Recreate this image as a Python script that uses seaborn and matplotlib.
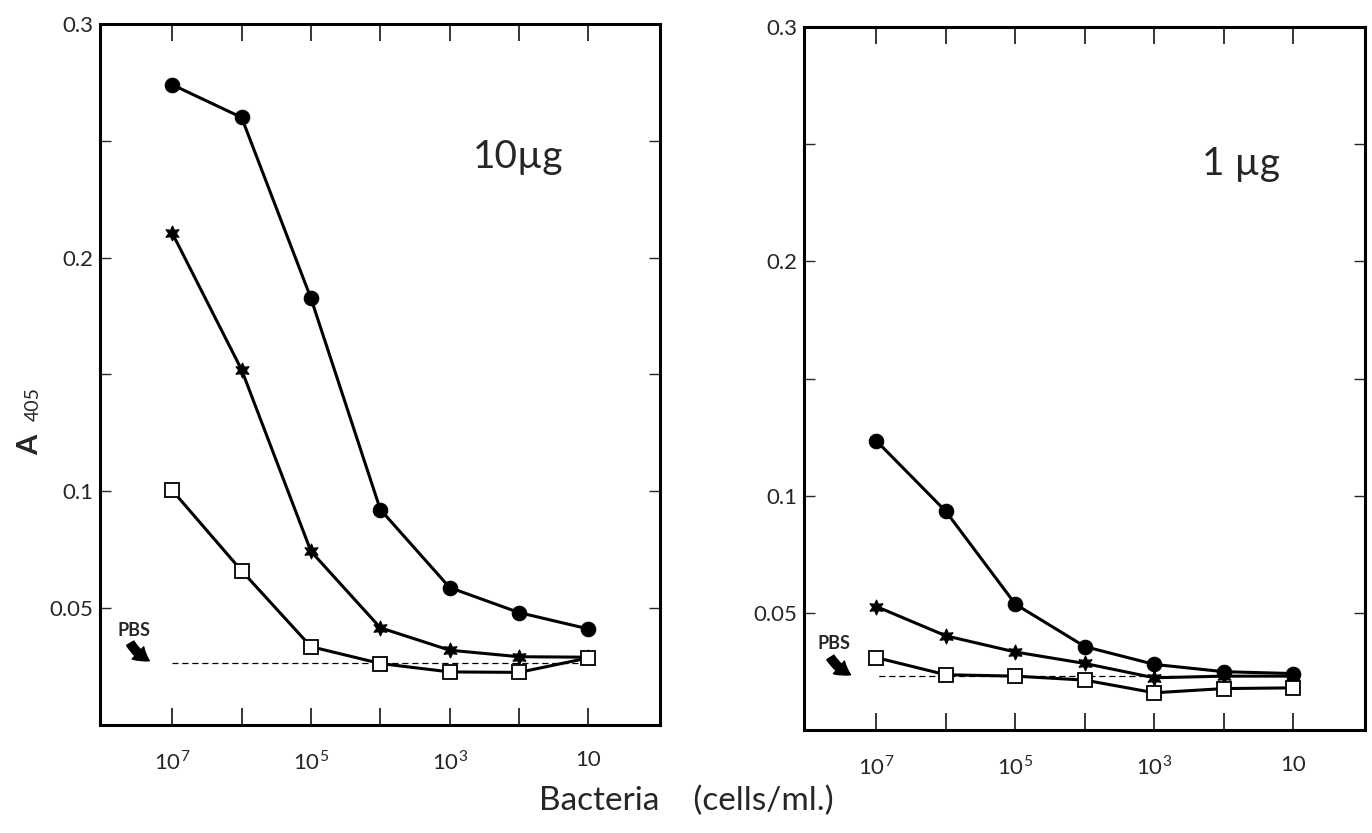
import numpy as np
import pandas as pd
import matplotlib
matplotlib.use("Agg")
import matplotlib.pyplot as plt
import seaborn as sns

# ---- data ----
bacteria = [1e7, 1e6, 1e5, 1e4, 1e3, 1e2, 1e1]

left_circle = [0.274, 0.260, 0.1826, 0.0922, 0.0588, 0.0481, 0.0411]
left_star = [0.2105, 0.152, 0.0743, 0.0416, 0.0320, 0.0292, 0.0290]
left_square = [0.1004, 0.066, 0.0335, 0.0263, 0.0227, 0.0225, 0.0287]
left_pbs = 0.0267

right_circle = [0.1234, 0.0933, 0.0537, 0.0356, 0.0280, 0.0249, 0.0241]
right_star = [0.0527, 0.0402, 0.0333, 0.0284, 0.0223, 0.0230, 0.0230]
right_square = [0.0309, 0.0236, 0.0230, 0.0213, 0.0159, 0.0177, 0.0180]
right_pbs = 0.0230

panel_labels = ["10\u00b5g", "1 \u00b5g"]
ytick_vals = [0.05, 0.1, 0.15, 0.2, 0.25, 0.3]
ytick_labels = ["0.05", "0.1", "", "0.2", "", "0.3"]
xtick_labels = ["$10^7$", "", "$10^5$", "", "$10^3$", "", "10"]

sns.set_style("white")
plt.rcParams["font.family"] = ["Lato", "DejaVu Sans"]
plt.rcParams["mathtext.fontset"] = "custom"
plt.rcParams["mathtext.rm"] = "Lato"

fig = plt.figure(figsize=(13.72, 8.33), dpi=100)
ax1 = fig.add_axes([0.0729, 0.1297, 0.4081, 0.8415])
ax2 = fig.add_axes([0.586, 0.1236, 0.409, 0.844])

star_marker = (6, 1, 0)

def draw(ax, circ, star, sq, pbs, pbs_end, label, label_xy,
         txt_xy, tail, tip):
    # PBS baseline
    sns.lineplot(x=[1e7, pbs_end], y=[pbs, pbs], ax=ax, color="black",
                 linewidth=0.9, linestyle=(0, (5, 3)), legend=False)
    sns.lineplot(x=bacteria, y=circ, ax=ax, color="black", linewidth=2.2,
                 marker="o", markersize=10.5, markerfacecolor="black",
                 markeredgecolor="black", legend=False)
    sns.lineplot(x=bacteria, y=star, ax=ax, color="black", linewidth=2.2,
                 marker=star_marker, markersize=11, markerfacecolor="black",
                 markeredgecolor="black", legend=False)
    sns.lineplot(x=bacteria, y=sq, ax=ax, color="black", linewidth=2.2,
                 marker="s", markersize=10.5, markerfacecolor="white",
                 markeredgecolor="black", markeredgewidth=1.3, legend=False)
    ax.set_xscale("log")
    ax.set_xlim(1.1e8, 0.93)
    ax.set_ylim(0, 0.3)
    ax.set_xticks(bacteria)
    ax.set_xticklabels(xtick_labels, fontsize=16)
    ax.xaxis.set_minor_locator(matplotlib.ticker.NullLocator())
    ax.set_yticks(ytick_vals)
    ax.set_yticklabels(ytick_labels, fontsize=16)
    ax.tick_params(axis="x", direction="in", length=12, width=1.3,
                   top=True, bottom=True, pad=18)
    ax.tick_params(axis="y", direction="in", length=8, width=1.0,
                   left=True, right=True, pad=5)
    for s in ax.spines.values():
        s.set_visible(True)
        s.set_linewidth(2.2)
        s.set_color("black")
    ax.set_xlabel("")
    ax.set_ylabel("")
    ax.text(label_xy[0], label_xy[1], label, transform=ax.transAxes,
            fontsize=28, ha="left", va="center")
    ax.text(txt_xy[0], txt_xy[1], "PBS", transform=ax.get_yaxis_transform()
            if False else matplotlib.transforms.blended_transform_factory(ax.transAxes, ax.transData),
            fontsize=13, fontweight="bold", ha="center", va="center")
    tr = matplotlib.transforms.blended_transform_factory(ax.transAxes, ax.transData)
    ax.annotate("", xy=tip, xycoords=tr, xytext=tail, textcoords=tr,
                arrowprops=dict(arrowstyle="simple,head_width=1.1,head_length=0.9,tail_width=0.55",
                                mutation_scale=11, color="black",
                                connectionstyle="arc3,rad=0.15",
                                shrinkA=0, shrinkB=0))

draw(ax1, left_circle, left_star, left_square, left_pbs, 1e1,
     panel_labels[0], (0.665, 0.81),
     (0.061, 0.0405), (0.054, 0.0350), (0.088, 0.0275))
draw(ax2, right_circle, right_star, right_square, right_pbs, 5e2,
     panel_labels[1], (0.71, 0.805),
     (0.053, 0.0369), (0.047, 0.0310), (0.083, 0.0236))

fig.text(0.022, 0.466, "A", rotation=90, fontsize=21, fontweight="bold",
         ha="center", va="center")
fig.text(0.024, 0.515, "405", rotation=90, fontsize=14,
         ha="center", va="center")
fig.text(0.5, 0.038, "Bacteria    (cells/ml.)", fontsize=24,
         ha="center", va="center")

fig.savefig("out.png", dpi=100)
